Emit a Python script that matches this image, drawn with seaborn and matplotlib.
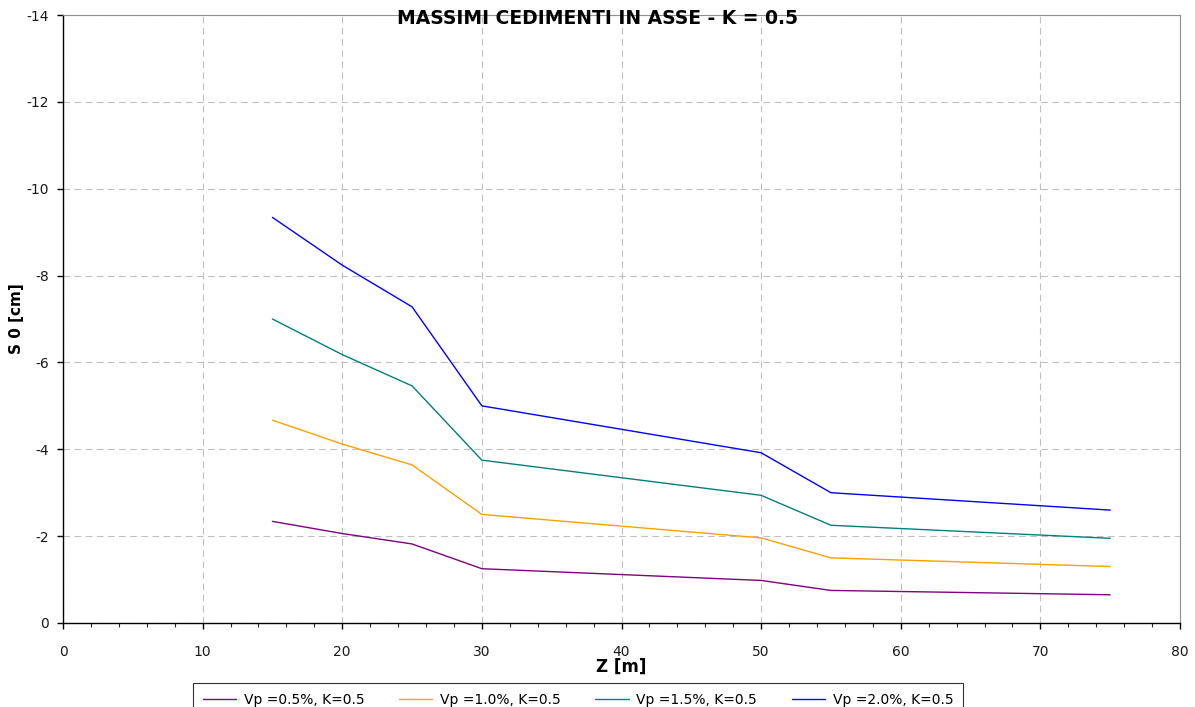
import matplotlib
matplotlib.use("Agg")
import matplotlib.pyplot as plt
from matplotlib.ticker import MultipleLocator
from matplotlib.lines import Line2D
import seaborn as sns
import pandas as pd

z = [15, 20, 25, 30, 50, 55, 75]
s_05 = [-2.34, -2.06, -1.82, -1.25, -0.98, -0.75, -0.65]
s_10 = [-4.67, -4.12, -3.64, -2.50, -1.96, -1.50, -1.30]
s_15 = [-7.00, -6.18, -5.46, -3.75, -2.94, -2.25, -1.95]
s_20 = [-9.34, -8.24, -7.28, -5.00, -3.92, -3.00, -2.60]
labels = ["Vp =0.5%, K=0.5", "Vp =1.0%, K=0.5", "Vp =1.5%, K=0.5", "Vp =2.0%, K=0.5"]
colors = ["#800080", "#FFA000", "#008080", "#0000FF"]

rows = []
for lab, ser in zip(labels, [s_05, s_10, s_15, s_20]):
    for x, y in zip(z, ser):
        rows.append({"Z": x, "S": y, "serie": lab})
df = pd.DataFrame(rows)

sns.set_style("white")
plt.rcParams['font.family'] = ['DejaVu Sans']
plt.rcParams['axes.unicode_minus'] = False
plt.rcParams['text.color'] = 'black'
plt.rcParams['axes.labelcolor'] = 'black'

fig = plt.figure(figsize=(11.95, 7.07), dpi=100)
ax = fig.add_axes([63/1195, 1-623/707, (1180-63)/1195, (623-15)/707])

sns.lineplot(data=df, x="Z", y="S", hue="serie", palette=colors, hue_order=labels,
             ax=ax, linewidth=1.0, legend=False, sort=False, estimator=None)

ax.set_xlim(0, 80)
ax.set_ylim(0, -14)
ax.xaxis.set_major_locator(MultipleLocator(10))
ax.xaxis.set_minor_locator(MultipleLocator(2))
ax.yaxis.set_major_locator(MultipleLocator(2))
ax.grid(True, which="major", linestyle=(0, (6, 4)), color="#c0c0c0", linewidth=0.8)
ax.tick_params(axis="both", which="major", direction="out", length=4, width=1,
               labelsize=10, color="black", labelcolor="#1a1a1a", bottom=True, left=True)
ax.tick_params(axis="x", which="minor", direction="out", length=3, width=0.8, bottom=True)
ax.tick_params(axis="x", which="major", pad=12)
ax.tick_params(axis="y", which="major", pad=6)
for sp in ["left", "bottom"]:
    ax.spines[sp].set_color("black")
    ax.spines[sp].set_linewidth(1.0)
for sp in ["top", "right"]:
    ax.spines[sp].set_color("#909090")
    ax.spines[sp].set_linewidth(0.8)

ax.set_xlabel("Z [m]", family="DejaVu Sans", fontweight="bold", fontsize=12, va="center")
ax.set_ylabel("S 0 [cm]", family="DejaVu Sans", fontweight="bold", fontsize=11, va="center")
ax.xaxis.set_label_coords(0.5, -(667-623)/608)
ax.yaxis.set_label_coords(-(63-17)/1117, 0.5)
fig.text(0.5, 1-18/707, "MASSIMI CEDIMENTI IN ASSE - K = 0.5", family="DejaVu Sans",
         fontweight="bold", fontsize=13.5, ha="center", va="center", color="black")

handles = [Line2D([], [], color=c, linewidth=1.0) for c in colors]
leg = fig.legend(handles, labels, loc="upper left", bbox_to_anchor=(193/1195, 1-683/707),
                 ncol=4, frameon=True, fancybox=False, edgecolor="black",
                 prop={"family": "DejaVu Sans", "size": 10}, handlelength=2.4,
                 handletextpad=0.55, columnspacing=2.5, borderpad=0.7, borderaxespad=0)
leg.get_frame().set_linewidth(0.8)

fig.savefig("out.png", dpi=100)
